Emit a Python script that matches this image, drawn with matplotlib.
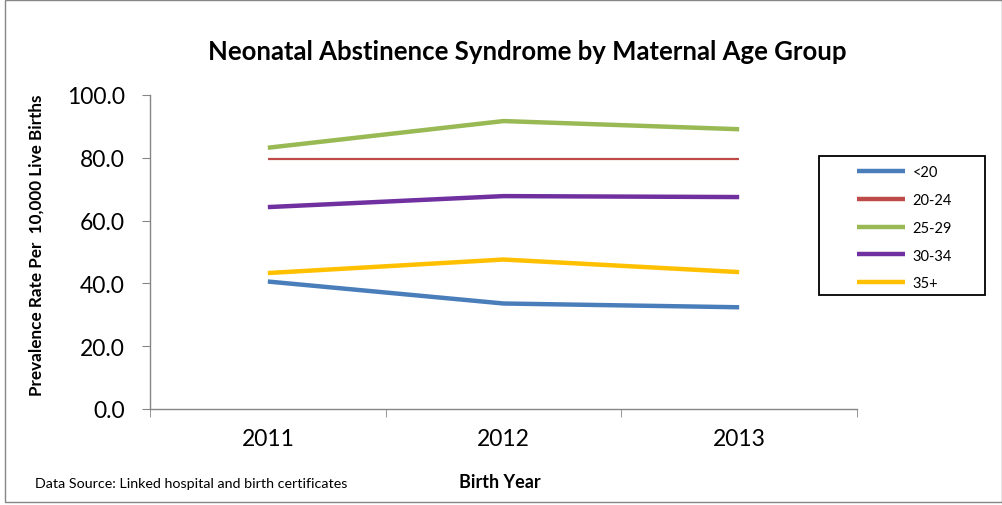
import matplotlib.pyplot as plt
from matplotlib.patches import Rectangle

# Dados
years = ['2011', '2012', '2013']
under_20 = [40.6, 33.6, 32.4]
age_20_24 = [79.5, 79.5, 79.5]
age_25_29 = [83.2, 91.7, 89.1]
age_30_34 = [64.3, 67.8, 67.5]
age_35_plus = [43.3, 47.6, 43.6]

series = [
    ('<20', under_20, '#4A7EBB', 3.2),
    ('20-24', age_20_24, '#BE4B48', 1.6),
    ('25-29', age_25_29, '#98B954', 3.2),
    ('30-34', age_30_34, '#7030A0', 3.2),
    ('35+', age_35_plus, '#FFC000', 3.2),
]

plt.rcParams['font.family'] = ['Lato', 'DejaVu Sans']

fig = plt.figure(figsize=(10.03, 5.06), dpi=100)
ax = fig.add_axes([150 / 1003, (506 - 410) / 506, 707 / 1003, 314 / 506])

x = list(range(len(years)))
for label, values, color, lw in series:
    ax.plot(x, values, color=color, linewidth=lw, label=label,
            solid_capstyle='butt')

# eixos
ax.set_xlim(-0.5, 2.5)
ax.set_ylim(0, 100)
ax.set_yticks([0, 20, 40, 60, 80, 100])
ax.set_yticklabels(['%.1f' % v for v in [0, 20, 40, 60, 80, 100]])
ax.set_xticks(x)
ax.set_xticklabels(years)
ax.set_xticks([-0.5, 0.5, 1.5, 2.5], minor=True)
ax.tick_params(axis='x', which='major', length=0, pad=14, labelsize=16.5)
ax.tick_params(axis='x', which='minor', length=6, color='#868686',
               direction='out')
ax.tick_params(axis='y', length=6, color='#868686', labelsize=16.5, pad=12)
for side in ['top', 'right']:
    ax.spines[side].set_visible(False)
for side in ['left', 'bottom']:
    ax.spines[side].set_color('#868686')
    ax.spines[side].set_linewidth(1.0)

# titulo e rotulos
fig.text(527 / 1003, 1 - 52 / 506,
         'Neonatal Abstinence Syndrome by Maternal Age Group',
         ha='center', va='center', fontsize=18.5, fontweight='bold')
fig.text(37 / 1003, 1 - 245 / 506,
         'Prevalence Rate Per  10,000 Live Births', rotation=90,
         ha='center', va='center', fontsize=12.3, fontweight='bold')
fig.text(500 / 1003, 1 - 483 / 506, 'Birth Year',
         ha='center', va='center', fontsize=13, fontweight='bold')
fig.text(35 / 1003, 1 - 484 / 506,
         'Data Source: Linked hospital and birth certificates',
         ha='left', va='center', fontsize=10.3)

# legenda (sem moldura, a moldura e desenhada a parte)
leg = fig.legend(loc='upper left', bbox_to_anchor=(857 / 1003, 1 - 166 / 506),
                 frameon=False, fontsize=10.5,
                 handlelength=3.3, labelspacing=0.95, borderpad=0,
                 handletextpad=0.5, borderaxespad=0)
for line in leg.get_lines():
    line.set_linewidth(3.2)
fig.patches.append(Rectangle((819 / 1003, 1 - 296 / 506), 166 / 1003,
                             139 / 506, transform=fig.transFigure,
                             fill=False, edgecolor='black', linewidth=1.3))

# borda externa
fig.patches.append(Rectangle((5 / 1003, 3 / 506), 1 - 6 / 1003, 1 - 4 / 506,
                             transform=fig.transFigure, fill=False,
                             edgecolor='#868686', linewidth=1.0))

plt.savefig('out.png')
